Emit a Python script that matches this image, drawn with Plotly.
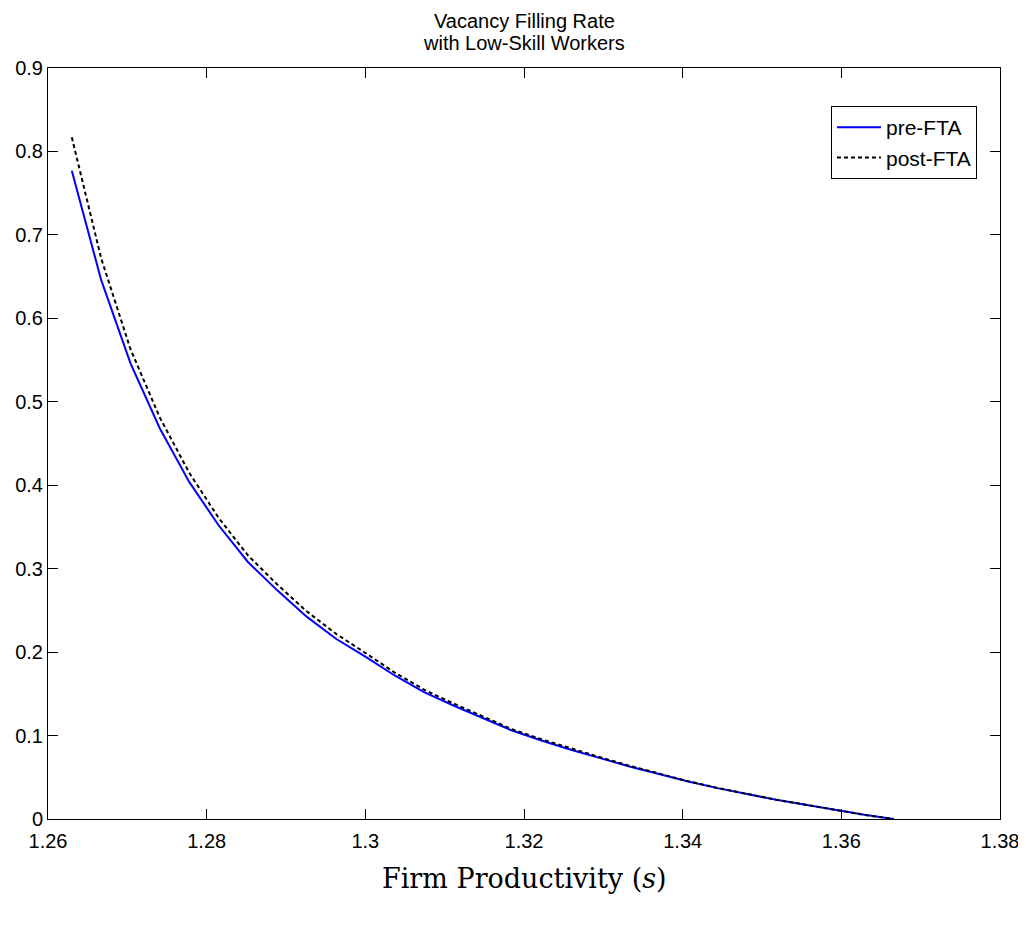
import plotly.graph_objects as go

s_values = [1.2630, 1.2667, 1.2704, 1.2741, 1.2778, 1.2815, 1.2852, 1.2889, 1.2926, 1.2963,
            1.3000, 1.3037, 1.3074, 1.3111, 1.3148, 1.3185, 1.3222, 1.3259, 1.3296, 1.3333,
            1.3370, 1.3407, 1.3444, 1.3481, 1.3518, 1.3555, 1.3592, 1.3629, 1.3666]
pre_fta = [0.777, 0.646, 0.546, 0.468, 0.404, 0.352, 0.308, 0.274, 0.2425, 0.216,
           0.1945, 0.172, 0.152, 0.136, 0.121, 0.106, 0.094, 0.083, 0.073, 0.063,
           0.054, 0.045, 0.037, 0.030, 0.023, 0.017, 0.011, 0.005, 0.0]
post_fta = [0.817, 0.672, 0.563, 0.481, 0.415, 0.361, 0.316, 0.281, 0.249, 0.222,
            0.199, 0.1755, 0.155, 0.1385, 0.123, 0.1075, 0.0955, 0.0845, 0.074, 0.0637,
            0.0545, 0.0453, 0.0372, 0.0301, 0.0231, 0.0171, 0.011, 0.005, 0.0]

x_ticks = [1.26, 1.28, 1.30, 1.32, 1.34, 1.36, 1.38]
x_tick_labels = ["1.26", "1.28", "1.3", "1.32", "1.34", "1.36", "1.38"]
y_ticks = [0, 0.1, 0.2, 0.3, 0.4, 0.5, 0.6, 0.7, 0.8, 0.9]
y_tick_labels = ["0", "0.1", "0.2", "0.3", "0.4", "0.5", "0.6", "0.7", "0.8", "0.9"]

title_lines = ["Vacancy Filling Rate", "with Low-Skill Workers"]
x_label = "Firm Productivity (<i>s</i>)"

SANS = "Liberation Sans, Arial, sans-serif"

fig = go.Figure()
fig.add_trace(go.Scatter(x=s_values, y=pre_fta, mode="lines", name="pre-FTA",
                         line=dict(color="#0000ff", width=2)))
fig.add_trace(go.Scatter(x=s_values, y=post_fta, mode="lines", name="post-FTA",
                         line=dict(color="black", width=2, dash="4px,3px")))

axis_common = dict(showline=True, linecolor="black", linewidth=1, mirror="ticks",
                   ticks="inside", ticklen=10, tickcolor="black", tickwidth=1,
                   showgrid=False, zeroline=False, automargin=False,
                   ticklabeloverflow="allow",
                   tickfont=dict(family=SANS, size=20, color="black"))

W, H = 1012, 910
ML, MR, MT, MB = 40, 20, 60, 99
plot_h = H - MT - MB

fig.update_layout(
    width=W, height=H,
    margin=dict(l=ML, r=MR, t=MT, b=MB, autoexpand=False),
    paper_bgcolor="white", plot_bgcolor="white",
    xaxis=dict(range=[1.26, 1.38], tickvals=x_ticks, ticktext=x_tick_labels,
               ticklabelstandoff=4, **axis_common),
    yaxis=dict(range=[0, 0.9], tickvals=y_ticks, ticktext=y_tick_labels, **axis_common),
    legend=dict(x=0.9758, y=0.9494, xanchor="right", yanchor="top",
                bordercolor="black", borderwidth=1, bgcolor="white",
                font=dict(family=SANS, size=21, color="black"),
                tracegroupgap=0, itemwidth=44),
    showlegend=True,
)

# title lines (page centres y=21 and 43, minus 8px body margin)
for line, fy in zip(title_lines, [13, 35]):
    fig.add_annotation(text=line, xref="paper", yref="paper",
                       x=0.5, y=(H - MB - fy) / plot_h, xanchor="center", yanchor="middle",
                       showarrow=False, font=dict(family=SANS, size=20, color="black"))

fig.add_annotation(text=x_label, xref="paper", yref="paper",
                   x=0.5, y=-(870 - (H - MB)) / plot_h, xanchor="center", yanchor="middle",
                   showarrow=False,
                   font=dict(family="DejaVu Serif, Liberation Serif, serif", size=27, color="black"))

fig.write_html("out.html")
